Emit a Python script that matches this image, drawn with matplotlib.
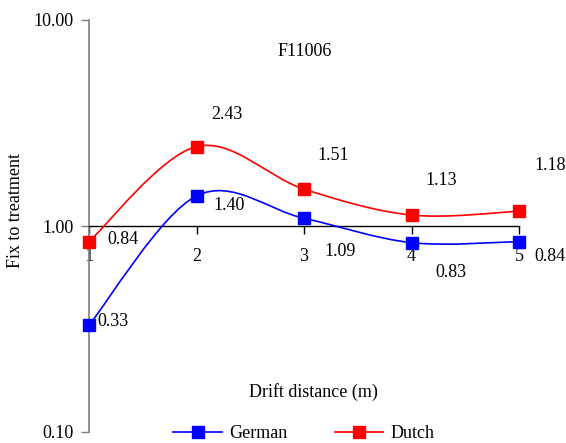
import numpy as np
import matplotlib.pyplot as plt
from matplotlib.path import Path
from matplotlib.patches import PathPatch
from matplotlib.lines import Line2D

plt.rcParams['font.family'] = ['Liberation Serif', 'DejaVu Serif']

distance = [1, 2, 3, 4, 5]
german = [0.33, 1.40, 1.09, 0.83, 0.84]
dutch = [0.84, 2.43, 1.51, 1.13, 1.18]
german_labels = ['0.33', '1.40', '1.09', '0.83', '0.84']
dutch_labels = ['0.84', '2.43', '1.51', '1.13', '1.18']
yticks = [0.1, 1.0, 10.0]
ytick_labels = ['0.10', '1.00', '10.00']

# label offsets in pixels from each point
german_off = [(24, 4), (33, -10), (36, -33), (39, -30), (31, -15)]
dutch_off = [(34, 2), (30, 32), (29, 34), (30, 35), (31, 46)]

FS = 13


def smooth_path(xs, ys):
    # excel-like smoothed line: catmull-rom -> cubic bezier in (x, log y)
    x = np.array(xs, float)
    ly = np.log10(ys)
    pts = np.column_stack([x, ly])
    n = len(pts)
    verts = [pts[0]]
    codes = [Path.MOVETO]
    for i in range(n - 1):
        p0 = pts[i - 1] if i > 0 else pts[i]
        p1 = pts[i]
        p2 = pts[i + 1]
        p3 = pts[i + 2] if i + 2 < n else pts[i + 1]
        c1 = p1 + (p2 - p0) / 6
        c2 = p2 - (p3 - p1) / 6
        verts += [c1, c2, p2]
        codes += [Path.CURVE4] * 3
    verts = np.array(verts)
    verts[:, 1] = 10 ** verts[:, 1]
    return Path(verts, codes)


fig = plt.figure(figsize=(5.66, 4.43), dpi=100)
ax = fig.add_axes([89 / 566, 1 - 432 / 443, 430 / 566, 412 / 443])
ax.set_yscale('log')
ax.set_xlim(1, 5)
ax.set_ylim(0.1, 10)

for vals, col in [(german, '#0000ff'), (dutch, '#ff0000')]:
    ax.add_patch(PathPatch(smooth_path(distance, vals), facecolor='none',
                           edgecolor=col, lw=1.2, clip_on=False, zorder=3))
    ax.plot(distance, vals, ls='none', marker='s', ms=8, color=col,
            clip_on=False, zorder=4)

for xv, yv, t, off in zip(distance, german, german_labels, german_off):
    ax.annotate(t, (xv, yv), xytext=off, textcoords='offset pixels',
                ha='center', va='center', fontsize=FS)
for xv, yv, t, off in zip(distance, dutch, dutch_labels, dutch_off):
    ax.annotate(t, (xv, yv), xytext=off, textcoords='offset pixels',
                ha='center', va='center', fontsize=FS)

ax.spines['top'].set_visible(False)
ax.spines['right'].set_visible(False)
ax.spines['left'].set_color('#808080')
ax.spines['left'].set_linewidth(1.2)
ax.spines['bottom'].set_position(('data', 1.0))
ax.spines['bottom'].set_color('black')
ax.spines['bottom'].set_linewidth(1.0)

ax.set_xticks(distance)
ax.set_xticklabels([str(d) for d in distance])
ax.set_yticks(yticks)
ax.set_yticklabels(ytick_labels)
ax.minorticks_off()
ax.tick_params(axis='x', direction='out', length=6, width=1, pad=10, labelsize=FS)
ax.tick_params(axis='y', direction='out', length=6, width=1, color='#808080',
               pad=5, labelsize=FS)

fig.text(305 / 566, 1 - 52 / 443, 'F11006', ha='center', va='center', fontsize=FS)
fig.text(16 / 566, 1 - 211 / 443, 'Fix to treatment', rotation=90,
         ha='center', va='center', fontsize=FS)
fig.text(313 / 566, 1 - 392 / 443, 'Drift distance (m)', ha='center',
         va='center', fontsize=FS)

handles = [Line2D([], [], color='#0000ff', marker='s', ms=8, lw=1.2),
           Line2D([], [], color='#ff0000', marker='s', ms=8, lw=1.2)]
fig.legend(handles, ['German', 'Dutch'], loc='center', ncol=2,
           bbox_to_anchor=(304 / 566, 1 - 434 / 443), frameon=False,
           fontsize=FS, handlelength=2.7, handletextpad=0.4,
           columnspacing=2.6, borderpad=0)

fig.savefig('out.png', dpi=100)
